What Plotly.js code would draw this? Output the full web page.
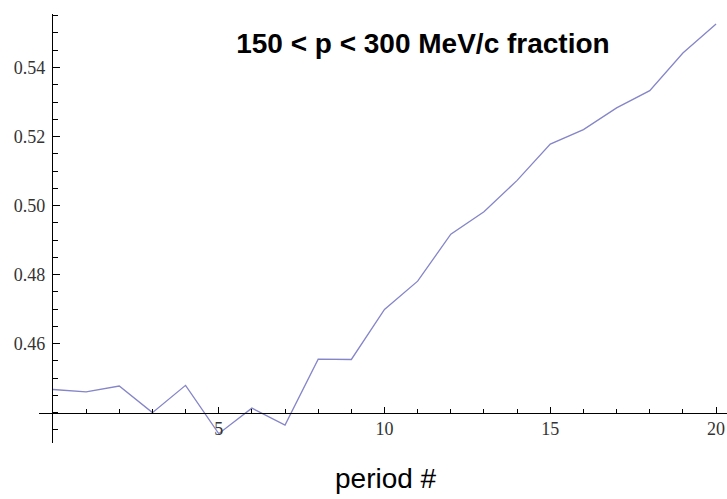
<!DOCTYPE html>
<html>
<head>
<meta charset="utf-8">
<script src="https://cdn.plot.ly/plotly-3.0.1.min.js"></script>
<style>
  html, body { margin: 0; padding: 0; background: #fff; }
  #chart { width: 727px; height: 499px; }
</style>
</head>
<body>
<div id="chart"></div>
<script>
// Fraction of particles with 150 < p < 300 MeV/c for each period
const periods = [0, 1, 2, 3, 4, 5, 6, 7, 8, 9, 10, 11, 12, 13, 14, 15, 16, 17, 18, 19, 20];
const fraction = [0.4467, 0.4460, 0.4477, 0.4400, 0.4479, 0.4339, 0.4413, 0.4364, 0.4555, 0.4554,
                  0.4699, 0.4781, 0.4917, 0.4982, 0.5073, 0.5178, 0.5220, 0.5283, 0.5333, 0.5442, 0.5526];

const xTicks = [5, 10, 15, 20];
const yTicks = [0.46, 0.48, 0.50, 0.52, 0.54];
const yTickText = ['0.46', '0.48', '0.50', '0.52', '0.54'];

const xRange = [-0.42, 20.33];
const yRange = [0.4312, 0.5555];
// the two axes cross at this point, inside the plotting area
const axisCross = { x: 0, y: 0.44 };

const crossFracY = (axisCross.y - yRange[0]) / (yRange[1] - yRange[0]);
const crossFracX = (axisCross.x - xRange[0]) / (xRange[1] - xRange[0]);

const tickFont = { family: 'Liberation Serif', size: 18, color: '#333' };
const tickStyle = { ticks: 'inside', tickwidth: 1, tickcolor: '#000' };

const trace = {
  x: periods,
  y: fraction,
  xaxis: 'x',
  yaxis: 'y',
  type: 'scatter',
  mode: 'lines',
  line: { color: '#8585c9', width: 1.3 },
  hoverinfo: 'x+y'
};

// empty traces so the decorative axis subplots get drawn
const holderX = { x: [], y: [], xaxis: 'x2', yaxis: 'y2', type: 'scatter', mode: 'lines', hoverinfo: 'skip' };
const holderY = { x: [], y: [], xaxis: 'x3', yaxis: 'y3', type: 'scatter', mode: 'lines', hoverinfo: 'skip' };

const layout = {
  width: 727,
  height: 499,
  margin: { l: 39, r: 0, t: 14, b: 56 },
  paper_bgcolor: '#fff',
  plot_bgcolor: 'rgba(0,0,0,0)',
  showlegend: false,
  title: {
    text: '<b>150 < p < 300 MeV/c fraction</b>',
    font: { family: 'Liberation Sans', size: 28, color: '#000' },
    x: 0.558, xref: 'paper', xanchor: 'center',
    y: 1 - 43 / 499, yref: 'container', yanchor: 'middle'
  },
  // data axes: scale the line, drawn without decoration
  xaxis: { range: xRange, domain: [0, 1], anchor: 'y', visible: false, fixedrange: true },
  yaxis: { range: yRange, domain: [0, 1], anchor: 'x', visible: false, fixedrange: true },

  // horizontal axis drawn where y = 0.44
  xaxis2: Object.assign({
    range: xRange, domain: [0, 1], anchor: 'y2',
    showgrid: false, zeroline: false, showline: true, linecolor: '#000', linewidth: 1,
    tickmode: 'array', tickvals: xTicks, ticklen: 6,
    ticklabelstandoff: 0, tickfont: tickFont,
    minor: { dtick: 1, tick0: 0, ticks: 'inside', ticklen: 4, tickwidth: 1, tickcolor: '#000', showgrid: false }
  }, tickStyle),
  yaxis2: { domain: [crossFracY, 1], anchor: 'x2', range: [0, 1], visible: false },

  // vertical axis drawn where x = 0
  yaxis3: Object.assign({
    range: yRange, domain: [0, 1], anchor: 'x3',
    showgrid: false, zeroline: false, showline: true, linecolor: '#000', linewidth: 1,
    tickmode: 'array', tickvals: yTicks, ticktext: yTickText, ticklen: 7,
    ticklabelstandoff: 3, tickfont: tickFont,
    minor: { dtick: 0.005, tick0: 0.44, ticks: 'inside', ticklen: 5, tickwidth: 1, tickcolor: '#000', showgrid: false }
  }, tickStyle),
  xaxis3: { domain: [crossFracX, 1], anchor: 'y3', range: [0, 1], visible: false },

  annotations: [{
    text: 'period #',
    xref: 'paper', yref: 'paper',
    x: (386 - 39) / 688, y: (443 - 478) / 429,
    xanchor: 'center', yanchor: 'middle',
    showarrow: false,
    font: { family: 'Liberation Sans', size: 28, color: '#000' }
  }]
};

Plotly.newPlot('chart', [trace, holderX, holderY], layout, { displayModeBar: false, staticPlot: true });
</script>
</body>
</html>
